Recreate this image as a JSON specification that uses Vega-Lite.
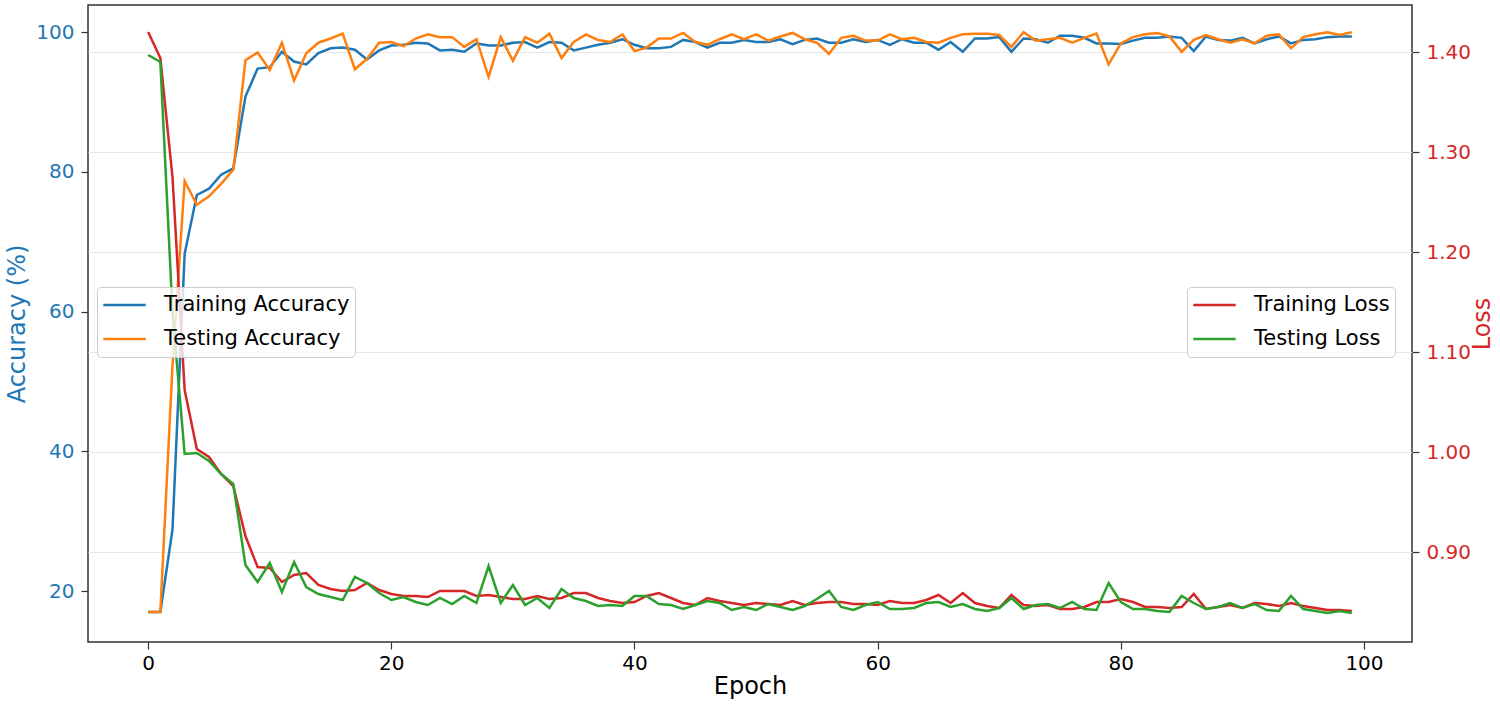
{
  "$schema": "https://vega.github.io/schema/vega-lite/v6.json",
  "width": 1324,
  "height": 637,
  "autosize": {"type": "none"},
  "padding": {"left": 88, "top": 5, "right": 88, "bottom": 63},
  "background": "white",
  "config": {
    "font": "DejaVu Sans",
    "view": {"stroke": "#333333", "strokeWidth": 1.5},
    "axis": {"domain": false, "labelFontSize": 20, "titleFontSize": 24, "titleFontWeight": "normal", "tickColor": "#333333", "tickSize": 7, "tickWidth": 1.2, "labelPadding": 7, "grid": false},
    "legend": {"labelFontSize": 21, "labelColor": "#000000", "labelLimit": 400, "symbolType": "stroke", "symbolSize": 1800, "symbolStrokeWidth": 2.5, "clipHeight": 26, "rowPadding": 8, "padding": 5, "labelOffset": 17, "fillColor": "rgba(255,255,255,0.8)", "strokeColor": "#cccccc", "cornerRadius": 4, "orient": "none", "title": null}
  },
  "data": {"values": [
    {"epoch":0,"train_acc":17.0,"test_acc":17.0,"train_loss":1.420,"test_loss":1.397},
    {"epoch":1,"train_acc":17.0,"test_acc":17.0,"train_loss":1.394,"test_loss":1.390},
    {"epoch":2,"train_acc":28.8,"test_acc":52.3,"train_loss":1.275,"test_loss":1.140},
    {"epoch":3,"train_acc":68.3,"test_acc":78.7,"train_loss":1.062,"test_loss":0.998},
    {"epoch":4,"train_acc":76.7,"test_acc":75.3,"train_loss":1.003,"test_loss":0.999},
    {"epoch":5,"train_acc":77.6,"test_acc":76.5,"train_loss":0.995,"test_loss":0.991},
    {"epoch":6,"train_acc":79.6,"test_acc":78.3,"train_loss":0.978,"test_loss":0.978},
    {"epoch":7,"train_acc":80.5,"test_acc":80.3,"train_loss":0.966,"test_loss":0.968},
    {"epoch":8,"train_acc":90.8,"test_acc":96.0,"train_loss":0.916,"test_loss":0.887},
    {"epoch":9,"train_acc":94.8,"test_acc":97.1,"train_loss":0.885,"test_loss":0.870},
    {"epoch":10,"train_acc":95.0,"test_acc":94.6,"train_loss":0.884,"test_loss":0.889},
    {"epoch":11,"train_acc":97.2,"test_acc":98.5,"train_loss":0.870,"test_loss":0.860},
    {"epoch":12,"train_acc":95.8,"test_acc":93.1,"train_loss":0.877,"test_loss":0.890},
    {"epoch":13,"train_acc":95.4,"test_acc":97.0,"train_loss":0.879,"test_loss":0.865},
    {"epoch":14,"train_acc":97.0,"test_acc":98.5,"train_loss":0.867,"test_loss":0.858},
    {"epoch":15,"train_acc":97.7,"test_acc":99.1,"train_loss":0.863,"test_loss":0.855},
    {"epoch":16,"train_acc":97.8,"test_acc":99.8,"train_loss":0.861,"test_loss":0.852},
    {"epoch":17,"train_acc":97.5,"test_acc":94.7,"train_loss":0.862,"test_loss":0.875},
    {"epoch":18,"train_acc":96.1,"test_acc":96.2,"train_loss":0.869,"test_loss":0.869},
    {"epoch":19,"train_acc":97.4,"test_acc":98.5,"train_loss":0.862,"test_loss":0.859},
    {"epoch":20,"train_acc":98.1,"test_acc":98.6,"train_loss":0.858,"test_loss":0.852},
    {"epoch":21,"train_acc":98.2,"test_acc":98.0,"train_loss":0.856,"test_loss":0.855},
    {"epoch":22,"train_acc":98.5,"test_acc":99.1,"train_loss":0.856,"test_loss":0.850},
    {"epoch":23,"train_acc":98.4,"test_acc":99.7,"train_loss":0.855,"test_loss":0.847},
    {"epoch":24,"train_acc":97.4,"test_acc":99.3,"train_loss":0.861,"test_loss":0.854},
    {"epoch":25,"train_acc":97.5,"test_acc":99.3,"train_loss":0.861,"test_loss":0.848},
    {"epoch":26,"train_acc":97.2,"test_acc":97.9,"train_loss":0.861,"test_loss":0.856},
    {"epoch":27,"train_acc":98.4,"test_acc":99.0,"train_loss":0.856,"test_loss":0.849},
    {"epoch":28,"train_acc":98.1,"test_acc":93.6,"train_loss":0.857,"test_loss":0.886},
    {"epoch":29,"train_acc":98.1,"test_acc":99.3,"train_loss":0.855,"test_loss":0.849},
    {"epoch":30,"train_acc":98.5,"test_acc":95.9,"train_loss":0.853,"test_loss":0.867},
    {"epoch":31,"train_acc":98.6,"test_acc":99.3,"train_loss":0.853,"test_loss":0.847},
    {"epoch":32,"train_acc":97.8,"test_acc":98.5,"train_loss":0.856,"test_loss":0.854},
    {"epoch":33,"train_acc":98.6,"test_acc":99.8,"train_loss":0.853,"test_loss":0.844},
    {"epoch":34,"train_acc":98.5,"test_acc":96.3,"train_loss":0.854,"test_loss":0.863},
    {"epoch":35,"train_acc":97.4,"test_acc":98.6,"train_loss":0.859,"test_loss":0.854},
    {"epoch":36,"train_acc":97.8,"test_acc":99.7,"train_loss":0.859,"test_loss":0.851},
    {"epoch":37,"train_acc":98.2,"test_acc":98.9,"train_loss":0.854,"test_loss":0.846},
    {"epoch":38,"train_acc":98.5,"test_acc":98.6,"train_loss":0.851,"test_loss":0.847},
    {"epoch":39,"train_acc":99.0,"test_acc":99.7,"train_loss":0.849,"test_loss":0.846},
    {"epoch":40,"train_acc":98.2,"test_acc":97.3,"train_loss":0.850,"test_loss":0.856},
    {"epoch":41,"train_acc":97.7,"test_acc":97.8,"train_loss":0.856,"test_loss":0.856},
    {"epoch":42,"train_acc":97.7,"test_acc":99.1,"train_loss":0.859,"test_loss":0.848},
    {"epoch":43,"train_acc":97.9,"test_acc":99.1,"train_loss":0.854,"test_loss":0.847},
    {"epoch":44,"train_acc":98.9,"test_acc":99.9,"train_loss":0.849,"test_loss":0.843},
    {"epoch":45,"train_acc":98.6,"test_acc":98.6,"train_loss":0.847,"test_loss":0.847},
    {"epoch":46,"train_acc":97.8,"test_acc":98.2,"train_loss":0.854,"test_loss":0.851},
    {"epoch":47,"train_acc":98.5,"test_acc":99.0,"train_loss":0.851,"test_loss":0.849},
    {"epoch":48,"train_acc":98.5,"test_acc":99.7,"train_loss":0.849,"test_loss":0.842},
    {"epoch":49,"train_acc":98.9,"test_acc":99.0,"train_loss":0.847,"test_loss":0.845},
    {"epoch":50,"train_acc":98.6,"test_acc":99.7,"train_loss":0.849,"test_loss":0.842},
    {"epoch":51,"train_acc":98.6,"test_acc":98.8,"train_loss":0.848,"test_loss":0.848},
    {"epoch":52,"train_acc":99.0,"test_acc":99.4,"train_loss":0.847,"test_loss":0.845},
    {"epoch":53,"train_acc":98.3,"test_acc":99.9,"train_loss":0.851,"test_loss":0.842},
    {"epoch":54,"train_acc":98.9,"test_acc":99.0,"train_loss":0.847,"test_loss":0.846},
    {"epoch":55,"train_acc":99.1,"test_acc":98.5,"train_loss":0.849,"test_loss":0.853},
    {"epoch":56,"train_acc":98.5,"test_acc":96.9,"train_loss":0.850,"test_loss":0.861},
    {"epoch":57,"train_acc":98.5,"test_acc":99.2,"train_loss":0.850,"test_loss":0.845},
    {"epoch":58,"train_acc":99.0,"test_acc":99.5,"train_loss":0.848,"test_loss":0.842},
    {"epoch":59,"train_acc":98.6,"test_acc":98.8,"train_loss":0.848,"test_loss":0.847},
    {"epoch":60,"train_acc":98.9,"test_acc":98.8,"train_loss":0.847,"test_loss":0.850},
    {"epoch":61,"train_acc":98.2,"test_acc":99.7,"train_loss":0.851,"test_loss":0.843},
    {"epoch":62,"train_acc":99.0,"test_acc":99.0,"train_loss":0.849,"test_loss":0.843},
    {"epoch":63,"train_acc":98.5,"test_acc":99.2,"train_loss":0.849,"test_loss":0.844},
    {"epoch":64,"train_acc":98.5,"test_acc":98.6,"train_loss":0.852,"test_loss":0.849},
    {"epoch":65,"train_acc":97.5,"test_acc":98.5,"train_loss":0.857,"test_loss":0.850},
    {"epoch":66,"train_acc":98.6,"test_acc":99.2,"train_loss":0.849,"test_loss":0.845},
    {"epoch":67,"train_acc":97.2,"test_acc":99.7,"train_loss":0.859,"test_loss":0.848},
    {"epoch":68,"train_acc":99.1,"test_acc":99.8,"train_loss":0.849,"test_loss":0.843},
    {"epoch":69,"train_acc":99.1,"test_acc":99.8,"train_loss":0.846,"test_loss":0.841},
    {"epoch":70,"train_acc":99.3,"test_acc":99.6,"train_loss":0.844,"test_loss":0.844},
    {"epoch":71,"train_acc":97.2,"test_acc":97.9,"train_loss":0.857,"test_loss":0.854},
    {"epoch":72,"train_acc":99.1,"test_acc":100.0,"train_loss":0.847,"test_loss":0.843},
    {"epoch":73,"train_acc":99.0,"test_acc":98.8,"train_loss":0.846,"test_loss":0.847},
    {"epoch":74,"train_acc":98.5,"test_acc":99.0,"train_loss":0.847,"test_loss":0.848},
    {"epoch":75,"train_acc":99.5,"test_acc":99.2,"train_loss":0.843,"test_loss":0.844},
    {"epoch":76,"train_acc":99.5,"test_acc":98.5,"train_loss":0.843,"test_loss":0.850},
    {"epoch":77,"train_acc":99.2,"test_acc":99.2,"train_loss":0.845,"test_loss":0.843},
    {"epoch":78,"train_acc":98.4,"test_acc":99.8,"train_loss":0.850,"test_loss":0.842},
    {"epoch":79,"train_acc":98.4,"test_acc":95.4,"train_loss":0.850,"test_loss":0.869},
    {"epoch":80,"train_acc":98.3,"test_acc":98.4,"train_loss":0.853,"test_loss":0.850},
    {"epoch":81,"train_acc":98.8,"test_acc":99.3,"train_loss":0.850,"test_loss":0.843},
    {"epoch":82,"train_acc":99.2,"test_acc":99.7,"train_loss":0.845,"test_loss":0.843},
    {"epoch":83,"train_acc":99.2,"test_acc":99.9,"train_loss":0.845,"test_loss":0.841},
    {"epoch":84,"train_acc":99.4,"test_acc":99.4,"train_loss":0.844,"test_loss":0.840},
    {"epoch":85,"train_acc":99.2,"test_acc":97.2,"train_loss":0.845,"test_loss":0.856},
    {"epoch":86,"train_acc":97.3,"test_acc":98.9,"train_loss":0.858,"test_loss":0.849},
    {"epoch":87,"train_acc":99.4,"test_acc":99.6,"train_loss":0.843,"test_loss":0.843},
    {"epoch":88,"train_acc":98.9,"test_acc":99.0,"train_loss":0.845,"test_loss":0.845},
    {"epoch":89,"train_acc":98.8,"test_acc":98.5,"train_loss":0.847,"test_loss":0.849},
    {"epoch":90,"train_acc":99.2,"test_acc":99.0,"train_loss":0.844,"test_loss":0.844},
    {"epoch":91,"train_acc":98.4,"test_acc":98.4,"train_loss":0.849,"test_loss":0.848},
    {"epoch":92,"train_acc":99.0,"test_acc":99.5,"train_loss":0.848,"test_loss":0.842},
    {"epoch":93,"train_acc":99.4,"test_acc":99.7,"train_loss":0.846,"test_loss":0.841},
    {"epoch":94,"train_acc":98.4,"test_acc":97.7,"train_loss":0.849,"test_loss":0.856},
    {"epoch":95,"train_acc":98.9,"test_acc":99.3,"train_loss":0.846,"test_loss":0.843},
    {"epoch":96,"train_acc":99.0,"test_acc":99.7,"train_loss":0.844,"test_loss":0.841},
    {"epoch":97,"train_acc":99.3,"test_acc":100.0,"train_loss":0.842,"test_loss":0.839},
    {"epoch":98,"train_acc":99.4,"test_acc":99.6,"train_loss":0.842,"test_loss":0.841},
    {"epoch":99,"train_acc":99.4,"test_acc":100.0,"train_loss":0.841,"test_loss":0.839}
  ]},
  "encoding": {
    "x": {"field": "epoch", "type": "quantitative", "scale": {"domain": [-4.95, 103.95], "nice": false, "zero": false},
      "axis": {"values": [0, 20, 40, 60, 80, 100], "title": "Epoch", "labelColor": "#000000", "titleColor": "#000000", "labelPadding": 4, "titlePadding": 1}}
  },
  "layer": [
    {
      "transform": [{"fold": ["train_acc", "test_acc"], "as": ["series", "value"]}],
      "mark": {"type": "line", "strokeWidth": 2.5},
      "encoding": {
        "y": {"field": "value", "type": "quantitative", "scale": {"domain": [12.7, 103.9], "nice": false, "zero": false},
          "axis": {"orient": "left", "values": [20, 40, 60, 80, 100], "title": "Accuracy (%)", "labelColor": "#1f77b4", "titleColor": "#1f77b4", "titlePadding": 6}},
        "color": {"field": "series", "type": "nominal",
          "scale": {"domain": ["train_acc", "test_acc"], "range": ["#1f77b4", "#ff7f0e"]},
          "legend": {"legendX": 9, "legendY": 282, "labelExpr": "datum.value == 'train_acc' ? 'Training Accuracy' : 'Testing Accuracy'"}}
      }
    },
    {
      "transform": [{"fold": ["train_loss", "test_loss"], "as": ["series", "value"]}],
      "mark": {"type": "line", "strokeWidth": 2.5},
      "encoding": {
        "y": {"field": "value", "type": "quantitative", "scale": {"domain": [0.81, 1.447], "nice": false, "zero": false},
          "axis": {"orient": "right", "values": [0.9, 1.0, 1.1, 1.2, 1.3, 1.4], "format": ".2f", "title": "Loss", "titleAngle": 270, "labelColor": "#d62728", "titleColor": "#d62728", "titlePadding": 24, "grid": true, "gridColor": "#e6e6e6", "gridWidth": 1}},
        "color": {"field": "series", "type": "nominal",
          "scale": {"domain": ["train_loss", "test_loss"], "range": ["#d62728", "#2ca02c"]},
          "legend": {"legendX": 1099, "legendY": 282, "labelExpr": "datum.value == 'train_loss' ? 'Training Loss' : 'Testing Loss'"}}
      }
    }
  ],
  "resolve": {"scale": {"y": "independent", "color": "independent"}, "legend": {"color": "independent"}}
}
